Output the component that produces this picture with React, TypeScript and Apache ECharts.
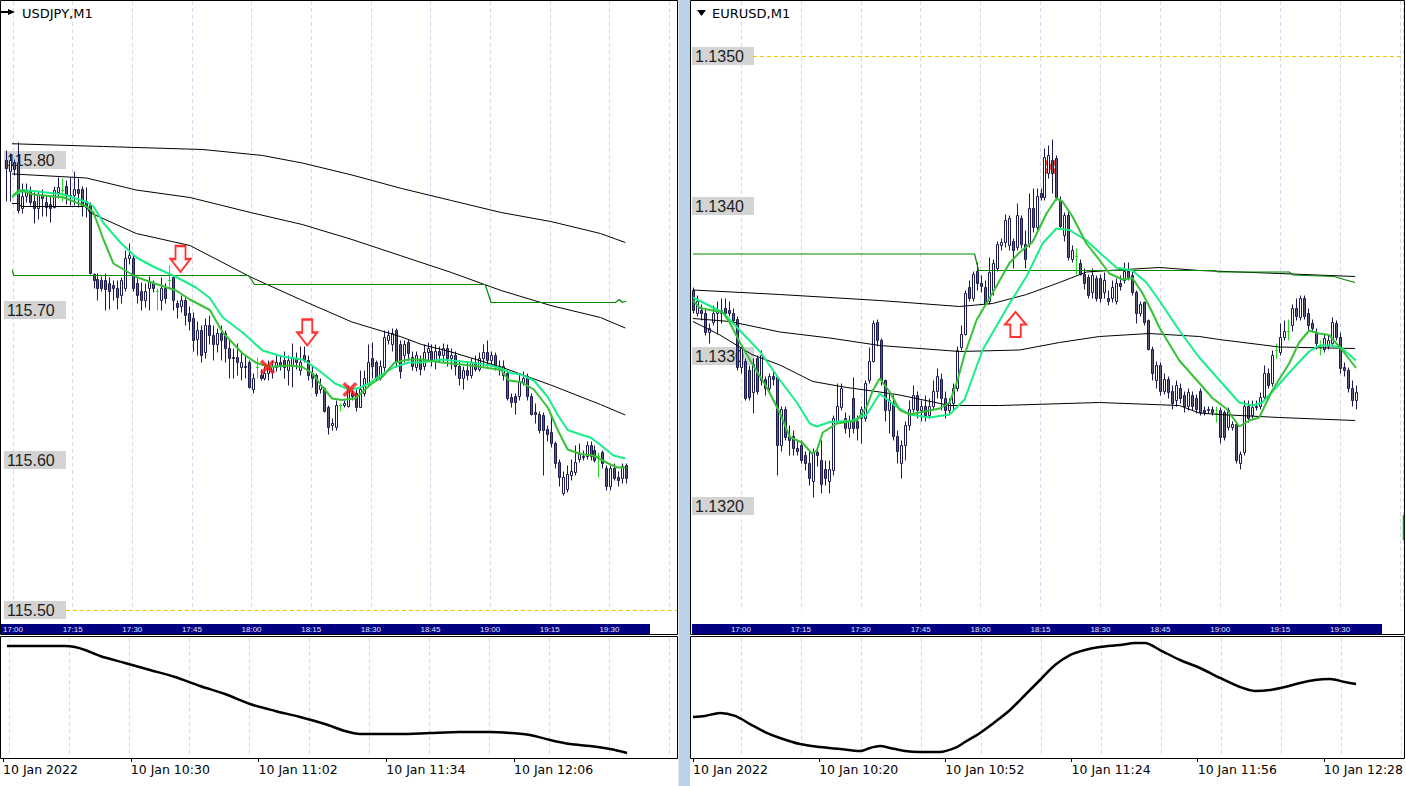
import React, { useEffect, useRef } from "react";
import * as echarts from "echarts";

// ---------- tick labels ----------
const timeStripLabels = ["17:00", "17:15", "17:30", "17:45", "18:00", "18:15", "18:30", "18:45", "19:00", "19:15", "19:30"];
const usdjpyDateLabels = ["10 Jan 2022", "10 Jan 10:30", "10 Jan 11:02", "10 Jan 11:34", "10 Jan 12:06"];
const eurusdDateLabels = ["10 Jan 2022", "10 Jan 10:20", "10 Jan 10:52", "10 Jan 11:24", "10 Jan 11:56", "10 Jan 12:28"];
const usdjpyPriceTicks = [115.5, 115.6, 115.7, 115.8];
const eurusdPriceTicks = [1.132, 1.133, 1.134, 1.135];
const usdjpyLevel = 115.5;
const eurusdLevel = 1.135;

// ---------- USDJPY M1 candles [open, close, low, high] ----------
const usdjpyCandles: number[][] = [
  [115.800, 115.795, 115.773, 115.807], [115.793, 115.800, 115.773, 115.805], [115.799, 115.794, 115.790, 115.801],
  [115.799, 115.767, 115.765, 115.812], [115.768, 115.776, 115.765, 115.785], [115.776, 115.780, 115.772, 115.785],
  [115.780, 115.772, 115.770, 115.783], [115.773, 115.768, 115.758, 115.779], [115.768, 115.777, 115.761, 115.780],
  [115.777, 115.775, 115.763, 115.781], [115.772, 115.769, 115.763, 115.777], [115.771, 115.768, 115.759, 115.777],
  [115.769, 115.780, 115.768, 115.783], [115.779, 115.782, 115.775, 115.789], [115.780, 115.780, 115.773, 115.788],
  [115.783, 115.777, 115.771, 115.787], [115.777, 115.776, 115.770, 115.789], [115.777, 115.781, 115.770, 115.793],
  [115.781, 115.778, 115.769, 115.788], [115.781, 115.770, 115.763, 115.783], [115.773, 115.769, 115.762, 115.782],
  [115.770, 115.725, 115.724, 115.772], [115.724, 115.720, 115.715, 115.725], [115.721, 115.715, 115.707, 115.725],
  [115.720, 115.715, 115.713, 115.723], [115.720, 115.714, 115.700, 115.725], [115.718, 115.713, 115.701, 115.722],
  [115.717, 115.715, 115.707, 115.720], [115.715, 115.709, 115.701, 115.720], [115.710, 115.720, 115.705, 115.722],
  [115.715, 115.735, 115.713, 115.740], [115.735, 115.737, 115.731, 115.745], [115.735, 115.715, 115.713, 115.737],
  [115.718, 115.710, 115.705, 115.722], [115.713, 115.707, 115.700, 115.719], [115.707, 115.713, 115.702, 115.718],
  [115.715, 115.719, 115.700, 115.723], [115.718, 115.715, 115.712, 115.720], [115.713, 115.713, 115.700, 115.715],
  [115.707, 115.715, 115.700, 115.722], [115.715, 115.708, 115.705, 115.718], [115.720, 115.720, 115.715, 115.730],
  [115.722, 115.707, 115.700, 115.723], [115.705, 115.702, 115.695, 115.707], [115.703, 115.707, 115.699, 115.710],
  [115.707, 115.697, 115.690, 115.709], [115.698, 115.693, 115.687, 115.703], [115.695, 115.680, 115.673, 115.699],
  [115.681, 115.687, 115.670, 115.693], [115.687, 115.670, 115.665, 115.690], [115.672, 115.690, 115.668, 115.695],
  [115.690, 115.683, 115.677, 115.697], [115.683, 115.677, 115.667, 115.690], [115.677, 115.685, 115.672, 115.688],
  [115.685, 115.680, 115.667, 115.690], [115.685, 115.675, 115.665, 115.687], [115.675, 115.668, 115.655, 115.680],
  [115.669, 115.668, 115.655, 115.675], [115.669, 115.665, 115.657, 115.678], [115.662, 115.665, 115.653, 115.673],
  [115.663, 115.662, 115.655, 115.670], [115.665, 115.649, 115.648, 115.667], [115.647, 115.655, 115.645, 115.658],
  [115.662, 115.662, 115.655, 115.669], [115.657, 115.655, 115.653, 115.661], [115.655, 115.658, 115.653, 115.663],
  [115.658, 115.662, 115.653, 115.667], [115.659, 115.663, 115.655, 115.667], [115.662, 115.665, 115.659, 115.670],
  [115.665, 115.663, 115.660, 115.670], [115.667, 115.662, 115.655, 115.673], [115.660, 115.667, 115.650, 115.670],
  [115.663, 115.669, 115.649, 115.678], [115.668, 115.665, 115.661, 115.672], [115.660, 115.665, 115.657, 115.676],
  [115.670, 115.667, 115.665, 115.676], [115.667, 115.657, 115.653, 115.670], [115.658, 115.655, 115.649, 115.663],
  [115.657, 115.645, 115.643, 115.658], [115.647, 115.650, 115.645, 115.655], [115.648, 115.633, 115.632, 115.649],
  [115.635, 115.622, 115.617, 115.637], [115.623, 115.625, 115.620, 115.628], [115.622, 115.637, 115.620, 115.640],
  [115.637, 115.637, 115.633, 115.638], [115.637, 115.638, 115.635, 115.640], [115.636, 115.647, 115.635, 115.650],
  [115.645, 115.643, 115.640, 115.648], [115.645, 115.635, 115.633, 115.647], [115.635, 115.647, 115.635, 115.660],
  [115.645, 115.655, 115.643, 115.660], [115.651, 115.665, 115.650, 115.677], [115.668, 115.663, 115.655, 115.679],
  [115.665, 115.655, 115.653, 115.667], [115.655, 115.663, 115.653, 115.667], [115.662, 115.682, 115.659, 115.687],
  [115.680, 115.683, 115.677, 115.687], [115.677, 115.685, 115.673, 115.688], [115.687, 115.665, 115.662, 115.688],
  [115.677, 115.659, 115.655, 115.680], [115.670, 115.677, 115.665, 115.680], [115.679, 115.671, 115.667, 115.681],
  [115.669, 115.663, 115.660, 115.673], [115.662, 115.670, 115.659, 115.673], [115.667, 115.661, 115.657, 115.670],
  [115.663, 115.672, 115.660, 115.677], [115.672, 115.675, 115.667, 115.679], [115.673, 115.667, 115.663, 115.677],
  [115.667, 115.673, 115.661, 115.677], [115.673, 115.670, 115.665, 115.676], [115.670, 115.675, 115.665, 115.678],
  [115.675, 115.668, 115.663, 115.677], [115.668, 115.670, 115.661, 115.675], [115.670, 115.663, 115.657, 115.673],
  [115.663, 115.655, 115.650, 115.667], [115.655, 115.660, 115.647, 115.663], [115.660, 115.657, 115.653, 115.665],
  [115.657, 115.665, 115.655, 115.668], [115.665, 115.661, 115.659, 115.670], [115.661, 115.668, 115.659, 115.672],
  [115.668, 115.672, 115.663, 115.677], [115.672, 115.667, 115.663, 115.680], [115.667, 115.670, 115.663, 115.673],
  [115.670, 115.663, 115.660, 115.672], [115.663, 115.661, 115.657, 115.667], [115.657, 115.663, 115.653, 115.667],
  [115.658, 115.641, 115.640, 115.660], [115.642, 115.639, 115.635, 115.645], [115.643, 115.639, 115.631, 115.645],
  [115.643, 115.652, 115.640, 115.658], [115.652, 115.655, 115.650, 115.659], [115.656, 115.643, 115.640, 115.658],
  [115.643, 115.631, 115.630, 115.645], [115.632, 115.631, 115.625, 115.638], [115.631, 115.620, 115.618, 115.633],
  [115.630, 115.620, 115.590, 115.632], [115.621, 115.617, 115.613, 115.623], [115.619, 115.611, 115.609, 115.629],
  [115.611, 115.598, 115.595, 115.613], [115.599, 115.589, 115.583, 115.601], [115.578, 115.589, 115.577, 115.593],
  [115.581, 115.591, 115.579, 115.597], [115.590, 115.593, 115.587, 115.601], [115.592, 115.599, 115.590, 115.610],
  [115.601, 115.604, 115.599, 115.611], [115.603, 115.602, 115.600, 115.607], [115.603, 115.610, 115.601, 115.613],
  [115.610, 115.603, 115.600, 115.613], [115.607, 115.600, 115.599, 115.610], [115.603, 115.603, 115.589, 115.605],
  [115.605, 115.598, 115.595, 115.607], [115.595, 115.583, 115.580, 115.597], [115.583, 115.595, 115.580, 115.597],
  [115.595, 115.588, 115.587, 115.598], [115.589, 115.587, 115.583, 115.593], [115.588, 115.596, 115.585, 115.598],
  [115.597, 115.588, 115.585, 115.598],
];

// ---------- EURUSD M1 candles [open, close, low, high] ----------
const eurusdCandles: number[][] = [
  [1.13344, 1.13331, 1.13329, 1.13346], [1.13329, 1.13337, 1.13327, 1.13341], [1.13331, 1.13329, 1.13324, 1.13335],
  [1.13329, 1.13316, 1.13314, 1.13332], [1.13316, 1.13319, 1.13309, 1.13322], [1.13323, 1.13329, 1.13321, 1.13334],
  [1.13329, 1.13331, 1.13315, 1.13337], [1.13329, 1.13331, 1.13322, 1.13339], [1.13332, 1.13329, 1.13326, 1.13339],
  [1.13331, 1.13329, 1.13327, 1.13337], [1.13329, 1.13324, 1.13323, 1.13332], [1.13325, 1.13293, 1.13291, 1.13327],
  [1.13293, 1.13306, 1.13289, 1.13307], [1.13297, 1.13272, 1.13271, 1.13299], [1.13291, 1.13273, 1.13271, 1.13294],
  [1.13276, 1.13295, 1.13262, 1.13299], [1.13299, 1.13277, 1.13275, 1.13301], [1.13284, 1.13301, 1.13281, 1.13304],
  [1.13285, 1.13279, 1.13274, 1.13287], [1.13279, 1.13287, 1.13276, 1.13289], [1.13287, 1.13285, 1.13281, 1.13291],
  [1.13286, 1.13241, 1.13221, 1.13287], [1.13241, 1.13265, 1.13237, 1.13267], [1.13265, 1.13246, 1.13244, 1.13267],
  [1.13247, 1.13244, 1.13234, 1.13254], [1.13247, 1.13239, 1.13234, 1.13251], [1.13239, 1.13237, 1.13234, 1.13244],
  [1.13241, 1.13231, 1.13229, 1.13244], [1.13234, 1.13229, 1.13224, 1.13237], [1.13229, 1.13219, 1.13214, 1.13237],
  [1.13217, 1.13236, 1.13206, 1.13239], [1.13236, 1.13234, 1.13227, 1.13239], [1.13231, 1.13215, 1.13209, 1.13244],
  [1.13225, 1.13219, 1.13214, 1.13231], [1.13217, 1.13225, 1.13209, 1.13231], [1.13224, 1.13259, 1.13221, 1.13261],
  [1.13257, 1.13267, 1.13256, 1.13282], [1.13266, 1.13279, 1.13264, 1.13282], [1.13259, 1.13252, 1.13249, 1.13263],
  [1.13252, 1.13257, 1.13246, 1.13261], [1.13272, 1.13252, 1.13249, 1.13286], [1.13257, 1.13252, 1.13244, 1.13261],
  [1.13259, 1.13265, 1.13242, 1.13267], [1.13259, 1.13282, 1.13257, 1.13284], [1.13284, 1.13297, 1.13282, 1.13306],
  [1.13297, 1.13322, 1.13296, 1.13324], [1.13323, 1.13311, 1.13307, 1.13325], [1.13311, 1.13284, 1.13281, 1.13312],
  [1.13284, 1.13264, 1.13257, 1.13285], [1.13264, 1.13271, 1.13249, 1.13277], [1.13269, 1.13247, 1.13244, 1.13274],
  [1.13247, 1.13237, 1.13229, 1.13251], [1.13229, 1.13241, 1.13219, 1.13244], [1.13241, 1.13254, 1.13231, 1.13257],
  [1.13254, 1.13265, 1.13251, 1.13271], [1.13265, 1.13274, 1.13263, 1.13281], [1.13274, 1.13264, 1.13259, 1.13277],
  [1.13264, 1.13267, 1.13257, 1.13271], [1.13267, 1.13261, 1.13257, 1.13274], [1.13261, 1.13267, 1.13259, 1.13272],
  [1.13267, 1.13277, 1.13264, 1.13284], [1.13277, 1.13287, 1.13272, 1.13292], [1.13285, 1.13272, 1.13264, 1.13289],
  [1.13272, 1.13264, 1.13259, 1.13277], [1.13264, 1.13269, 1.13262, 1.13272], [1.13269, 1.13279, 1.13264, 1.13282],
  [1.13279, 1.13304, 1.13277, 1.13307], [1.13306, 1.13315, 1.13304, 1.13321], [1.13315, 1.13342, 1.13314, 1.13344],
  [1.13346, 1.13339, 1.13337, 1.13351], [1.13339, 1.13355, 1.13337, 1.13357], [1.13357, 1.13349, 1.13344, 1.13363],
  [1.13349, 1.13347, 1.13343, 1.13354], [1.13346, 1.13335, 1.13334, 1.13351], [1.13337, 1.13356, 1.13335, 1.13366],
  [1.13344, 1.13362, 1.13341, 1.13365], [1.13359, 1.13375, 1.13357, 1.13377], [1.13374, 1.13376, 1.13371, 1.13379],
  [1.13376, 1.13391, 1.13373, 1.13395], [1.13374, 1.13392, 1.13371, 1.13394], [1.13377, 1.13371, 1.13359, 1.13379],
  [1.13373, 1.13394, 1.13371, 1.13402], [1.13392, 1.13375, 1.13372, 1.13394], [1.13375, 1.13365, 1.13359, 1.13384],
  [1.13375, 1.13399, 1.13373, 1.13409], [1.13399, 1.13386, 1.13383, 1.13412], [1.13386, 1.13407, 1.13384, 1.13412],
  [1.13409, 1.13406, 1.13404, 1.13412], [1.13406, 1.13433, 1.13404, 1.13439], [1.13422, 1.13434, 1.13419, 1.13441],
  [1.13431, 1.13422, 1.13409, 1.13445], [1.13432, 1.13406, 1.13404, 1.13434], [1.13404, 1.13387, 1.13385, 1.13407],
  [1.13381, 1.13394, 1.13377, 1.13396], [1.13394, 1.13366, 1.13364, 1.13397], [1.13365, 1.13371, 1.13363, 1.13374],
  [1.13367, 1.13367, 1.13355, 1.13372], [1.13362, 1.13355, 1.13354, 1.13365], [1.13355, 1.13349, 1.13345, 1.13359],
  [1.13353, 1.13341, 1.13339, 1.13355], [1.13343, 1.13354, 1.13339, 1.13359], [1.13352, 1.13339, 1.13337, 1.13354],
  [1.13352, 1.13339, 1.13336, 1.13355], [1.13343, 1.13351, 1.13339, 1.13356], [1.13339, 1.13337, 1.13334, 1.13344],
  [1.13339, 1.13346, 1.13336, 1.13351], [1.13337, 1.13349, 1.13335, 1.13352], [1.13349, 1.13347, 1.13344, 1.13354],
  [1.13351, 1.13357, 1.13349, 1.13363], [1.13357, 1.13353, 1.13351, 1.13363], [1.13354, 1.13343, 1.13341, 1.13357],
  [1.13343, 1.13329, 1.13322, 1.13344], [1.13329, 1.13335, 1.13327, 1.13337], [1.13336, 1.13323, 1.13321, 1.13337],
  [1.13324, 1.13305, 1.13304, 1.13325], [1.13305, 1.13289, 1.13284, 1.13307], [1.13284, 1.13294, 1.13279, 1.13297],
  [1.13294, 1.13277, 1.13274, 1.13296], [1.13277, 1.13285, 1.13275, 1.13289], [1.13285, 1.13276, 1.13272, 1.13287],
  [1.13277, 1.13269, 1.13265, 1.13281], [1.13271, 1.13281, 1.13267, 1.13284], [1.13279, 1.13272, 1.13269, 1.13282],
  [1.13274, 1.13267, 1.13263, 1.13277], [1.13267, 1.13276, 1.13264, 1.13279], [1.13274, 1.13267, 1.13264, 1.13277],
  [1.13272, 1.13265, 1.13262, 1.13275], [1.13277, 1.13263, 1.13261, 1.13279], [1.13264, 1.13263, 1.13261, 1.13267],
  [1.13264, 1.13265, 1.13262, 1.13267], [1.13265, 1.13263, 1.13261, 1.13267], [1.13262, 1.13262, 1.13256, 1.13267],
  [1.13264, 1.13246, 1.13242, 1.13266], [1.13263, 1.13246, 1.13244, 1.13264], [1.13253, 1.13264, 1.13251, 1.13266],
  [1.13253, 1.13255, 1.13251, 1.13257], [1.13255, 1.13231, 1.13229, 1.13257], [1.13229, 1.13235, 1.13225, 1.13237],
  [1.13236, 1.13267, 1.13234, 1.13271], [1.13267, 1.13259, 1.13256, 1.13271], [1.13261, 1.13266, 1.13259, 1.13271],
  [1.13267, 1.13266, 1.13264, 1.13271], [1.13267, 1.13273, 1.13265, 1.13276], [1.13273, 1.13289, 1.13271, 1.13294],
  [1.13289, 1.13281, 1.13279, 1.13292], [1.13282, 1.13301, 1.13280, 1.13304], [1.13304, 1.13304, 1.13299, 1.13309],
  [1.13303, 1.13313, 1.13301, 1.13322], [1.13313, 1.13317, 1.13311, 1.13324], [1.13317, 1.13317, 1.13311, 1.13325],
  [1.13321, 1.13332, 1.13317, 1.13335], [1.13332, 1.13327, 1.13324, 1.13339], [1.13326, 1.13339, 1.13324, 1.13341],
  [1.13339, 1.13327, 1.13325, 1.13341], [1.13329, 1.13321, 1.13317, 1.13332], [1.13322, 1.13319, 1.13316, 1.13325],
  [1.13316, 1.13309, 1.13305, 1.13319], [1.13307, 1.13307, 1.13301, 1.13311], [1.13305, 1.13312, 1.13303, 1.13315],
  [1.13307, 1.13311, 1.13305, 1.13314], [1.13309, 1.13323, 1.13307, 1.13326], [1.13322, 1.13313, 1.13311, 1.13324],
  [1.13313, 1.13292, 1.13289, 1.13316], [1.13293, 1.13291, 1.13287, 1.13296], [1.13291, 1.13279, 1.13276, 1.13293],
  [1.13279, 1.13271, 1.13267, 1.13284], [1.13271, 1.13276, 1.13265, 1.13281],
];

// ---------- USDJPY indicator lines [bar index, price] ----------
const usdjpyMaSlow = [[-0.5, 115.811], [24.5, 115.809], [49.5, 115.807], [64.5, 115.803], [74.5, 115.798], [87, 115.79], [99.5, 115.781], [112, 115.773], [124.5, 115.765], [137, 115.759], [149.5, 115.751], [155.75, 115.745]];
const usdjpyMaMid = [[-0.5, 115.791], [20.25, 115.788], [32.75, 115.78], [46.25, 115.775], [61.5, 115.765], [74.5, 115.757], [87, 115.747], [99.5, 115.736], [112, 115.725], [124.5, 115.713], [137, 115.703], [149.5, 115.695], [155.75, 115.688]];
const usdjpyMaFast = [[-0.5, 115.771], [3.25, 115.771], [3.75, 115.769], [20.25, 115.769], [21, 115.765], [32.75, 115.751], [46.25, 115.743], [61.5, 115.722], [74, 115.707], [87, 115.692], [99.5, 115.682], [104.5, 115.677], [112, 115.672], [124.5, 115.662], [137, 115.65], [149.5, 115.637], [155.75, 115.63]];
const usdjpyHtfMa = [[-0.5, 115.73], [1, 115.73], [2, 115.723], [61, 115.723], [62.5, 115.717], [120.5, 115.717], [122, 115.705], [153.25, 115.705], [154.25, 115.707], [155, 115.705], [156, 115.706]];
const usdjpyEmaSlow = [[-0.5, 115.773], [4.5, 115.78], [14.5, 115.777], [20.25, 115.772], [22, 115.769], [24.5, 115.758], [28.75, 115.745], [32.75, 115.735], [37, 115.729], [42.75, 115.722], [47.75, 115.715], [51.25, 115.708], [54.5, 115.695], [59.5, 115.685], [64.5, 115.673], [69.5, 115.669], [74.5, 115.667], [77, 115.663], [79.5, 115.658], [82.75, 115.651], [86.25, 115.647], [88.75, 115.648], [91.25, 115.651], [94.5, 115.657], [97.75, 115.662], [101.25, 115.665], [104.5, 115.665], [109.5, 115.667], [117, 115.665], [122, 115.663], [124.5, 115.661], [127, 115.658], [129.5, 115.657], [132.75, 115.653], [136.25, 115.642], [138.75, 115.63], [141.25, 115.62], [144.5, 115.617], [147, 115.615], [149.5, 115.61], [152.75, 115.603], [155.75, 115.601]];
const usdjpyEmaFast = [[-0.5, 115.77], [3.25, 115.78], [7, 115.777], [14.5, 115.775], [20.25, 115.769], [22, 115.765], [24.5, 115.747], [27, 115.731], [32.75, 115.722], [37, 115.718], [42.75, 115.713], [46.25, 115.707], [51.25, 115.7], [54.5, 115.685], [59.5, 115.671], [62.75, 115.665], [66.25, 115.662], [71.25, 115.663], [74.5, 115.662], [77, 115.658], [79.5, 115.649], [82, 115.641], [84.5, 115.64], [87.75, 115.641], [89.5, 115.645], [92, 115.651], [94.5, 115.655], [97.75, 115.665], [101.25, 115.667], [104.5, 115.667], [109.5, 115.665], [117, 115.663], [124.5, 115.66], [126.5, 115.653], [129.5, 115.652], [132.75, 115.647], [136.25, 115.635], [138.75, 115.62], [141.25, 115.607], [144.5, 115.604], [147.75, 115.603], [151.25, 115.598], [153.75, 115.595], [155.75, 115.595]];
const usdjpyOscillator = [[-0.5, 93.3], [15.75, 93.3], [18.25, 92.4], [20.75, 89.9], [24.5, 84.9], [30.75, 79.0], [37, 73.1], [43.25, 67.2], [49.5, 59.7], [55.75, 52.9], [62, 44.5], [68.25, 38.7], [74.5, 33.6], [80.75, 27.7], [85.75, 21.8], [89.5, 19.3], [94.5, 19.3], [99.5, 19.3], [107, 20.2], [114.5, 21.0], [122, 21.0], [127, 20.2], [132, 18.5], [137, 14.3], [142, 10.9], [147, 9.2], [152, 6.7], [156.25, 3.4]];
const usdjpySellArrows = [[43.875, 115.734], [75.75, 115.685]];
const usdjpyCloseMarks = [[65.75, 115.662], [86.5, 115.647]];

// ---------- EURUSD indicator lines [bar index, price] ----------
const eurusdMaSlow = [[0, 1.13344], [21.75, 1.13341], [46.75, 1.13337], [66.75, 1.13333], [75, 1.13335], [83.5, 1.13341], [91.75, 1.13349], [98.5, 1.13356], [104.25, 1.13357], [116.75, 1.13359], [126.75, 1.13357], [146.75, 1.13355], [165.75, 1.13353]];
const eurusdMaMid = [[0, 1.13325], [9.25, 1.13323], [21.75, 1.13316], [34.25, 1.13312], [46.75, 1.13307], [66.75, 1.13303], [81.75, 1.13304], [91.75, 1.13309], [101.75, 1.13313], [114.25, 1.13315], [126.75, 1.13313], [131.75, 1.13311], [146.75, 1.13306], [165.75, 1.13305]];
const eurusdMaFast = [[0, 1.13323], [6.75, 1.13314], [14.75, 1.13301], [21.75, 1.13294], [30, 1.13283], [38.5, 1.13279], [46.75, 1.13276], [51.75, 1.13274], [64.25, 1.13267], [76.75, 1.13267], [101.75, 1.13269], [121.75, 1.13267], [126.75, 1.13262], [131.75, 1.13261], [146.75, 1.13259], [165.75, 1.13257]];
const eurusdHtfMa = [[0, 1.13368], [70.5, 1.13368], [71.5, 1.13357], [130.5, 1.13357], [131.5, 1.13356], [149.25, 1.13356], [150.25, 1.13354], [160.5, 1.13353], [163, 1.13351], [165.75, 1.13349]];
const eurusdEmaFast = [[0, 1.13337], [1.75, 1.13332], [7.5, 1.13329], [9.25, 1.13322], [11.75, 1.13309], [15, 1.13294], [18.5, 1.13279], [21.75, 1.13262], [24.25, 1.13246], [27.5, 1.13242], [29.75, 1.13235], [31, 1.13237], [32.5, 1.13249], [36, 1.13255], [41, 1.13257], [43.5, 1.13266], [45, 1.13277], [46.75, 1.13285], [49.25, 1.13276], [51.75, 1.13264], [54.25, 1.13261], [58, 1.13263], [61.75, 1.13265], [64.25, 1.13269], [66.25, 1.13284], [68, 1.13301], [71, 1.13324], [75, 1.13342], [79.25, 1.13362], [81.75, 1.13369], [85, 1.13376], [88.5, 1.13395], [91, 1.13405], [92.5, 1.13403], [95, 1.13393], [98.5, 1.13375], [101.75, 1.13364], [104.25, 1.13355], [107.5, 1.13351], [110, 1.13352], [112.5, 1.13342], [115, 1.13329], [116.75, 1.13319], [121.75, 1.13297], [126.75, 1.13282], [130, 1.13272], [133.5, 1.13265], [136.75, 1.13253], [139.25, 1.13257], [141.75, 1.13259], [145, 1.13277], [149.25, 1.13295], [151.75, 1.13309], [154.25, 1.13317], [156.75, 1.13315], [159.25, 1.13314], [162.5, 1.13304], [166, 1.13292]];
const eurusdEmaSlow = [[0, 1.13339], [7.5, 1.13329], [11.75, 1.13317], [16.75, 1.13303], [21.75, 1.13284], [26, 1.13269], [29.25, 1.13255], [31, 1.13253], [34.25, 1.13256], [40, 1.13257], [43.5, 1.13261], [46.75, 1.13275], [50.5, 1.13267], [54.25, 1.13261], [59.25, 1.13259], [64.25, 1.13261], [68, 1.13271], [72.5, 1.13304], [79.25, 1.13335], [83.5, 1.13353], [87.5, 1.13375], [91, 1.13385], [94.25, 1.13384], [98.5, 1.13377], [101.75, 1.13369], [106, 1.13359], [110, 1.13357], [113.5, 1.13349], [116.75, 1.13337], [121.75, 1.13317], [126.75, 1.13299], [131.75, 1.13284], [136.75, 1.13269], [140, 1.13267], [142.5, 1.13269], [146, 1.13279], [150, 1.13291], [154.25, 1.13303], [156.75, 1.13307], [160, 1.13307], [162.5, 1.13305], [166, 1.13297]];
const eurusdOscillator = [[0, 33.6], [3, 34.5], [6.75, 37.0], [10.5, 34.5], [14.25, 27.7], [18, 21.0], [21.75, 16.0], [26.75, 10.9], [31.75, 8.4], [36.75, 6.7], [41.75, 5.0], [44.25, 7.6], [46.75, 9.2], [49.25, 7.6], [53, 5.0], [56.75, 4.2], [61.75, 4.2], [65.5, 7.6], [68, 12.6], [71.75, 20.2], [75.5, 29.4], [79.25, 39.5], [83, 52.1], [86.75, 64.7], [90.5, 77.3], [94.25, 85.7], [98, 89.9], [101.75, 92.4], [106.75, 94.1], [110.5, 95.8], [113, 95.8], [116.75, 89.9], [121.75, 81.5], [126.75, 74.8], [131.75, 66.4], [136.75, 58.8], [140.5, 55.5], [144.25, 56.3], [148, 58.8], [151.75, 62.2], [155.5, 64.7], [159.25, 65.5], [163, 63.0], [165.75, 61.3]];
const eurusdBuyArrows = [[80.75, 1.13321]];
const eurusdCloseMarks = [[89.5, 1.13426]];

// ---------- styles ----------
const UI_FONT = "'DejaVu Sans', Tahoma, sans-serif";
const PRICE_FONT = "'Liberation Sans', Arial, sans-serif";
const GRID_LINE = { show: true, lineStyle: { color: "#d6d6ee", type: [4, 3] as any, width: 1 } };
const EDGE = "#1a1a4e";
const BEAR = "#5c5c76";
const BULL = "#ffffff";
const DOJI = "#22dd22";
const EMA_FAST = "#35c235";
const EMA_SLOW = "#18ee88";
const HTF = "#008800";
const DOWN_ARROW = "path://M5,0L15,0L15,13L20,13L10,26L0,13L5,13Z";
const UP_ARROW = "path://M10,0L20,13L15,13L15,26L5,26L5,13L0,13Z";
const CROSS = "path://M0,2L2,0L6,4L10,0L12,2L8,6L12,10L10,12L6,8L2,12L0,10L4,6Z";

function candleRender(params: any, api: any) {
  const i = api.value(0);
  const o = api.value(1), c = api.value(2), l = api.value(3), h = api.value(4);
  const pO = api.coord([i, o]);
  const pC = api.coord([i, c]);
  const pL = api.coord([i, l]);
  const pH = api.coord([i, h]);
  const r = Math.round(pO[0]);
  const xw = r + 0.5;
  const yH = Math.round(pH[1]) + 0.5;
  const yL = Math.round(pL[1]) + 0.5;
  if (o === c) {
    const yb = Math.round(pO[1]) + 0.5;
    return {
      type: "group",
      children: [
        { type: "line", shape: { x1: xw, y1: yH, x2: xw, y2: yL }, style: { stroke: DOJI, lineWidth: 1 } },
        { type: "line", shape: { x1: r - 1, y1: yb, x2: r + 2, y2: yb }, style: { stroke: DOJI, lineWidth: 1 } },
      ],
    };
  }
  const yT = Math.round(Math.min(pO[1], pC[1])) + 0.5;
  const yB = Math.round(Math.max(pO[1], pC[1])) + 0.5;
  return {
    type: "group",
    children: [
      { type: "line", shape: { x1: xw, y1: yH, x2: xw, y2: yL }, style: { stroke: EDGE, lineWidth: 1 } },
      {
        type: "rect",
        shape: { x: r - 0.5, y: yT, width: 2, height: Math.max(yB - yT, 1) },
        style: { fill: c > o ? BULL : BEAR, stroke: EDGE, lineWidth: 1 },
      },
    ],
  };
}

function priceFormatter(ticks: number[], digits: number, tol: number) {
  return (v: number) => {
    const hit = ticks.find((t) => Math.abs(t - v) < tol);
    return hit === undefined ? "" : `{b|${hit.toFixed(digits)}}`;
  };
}

function stripFormatter(v: number) {
  const k = Math.round(v / 15);
  if (Math.abs(v - k * 15) > 1e-6 || k < 0 || k >= timeStripLabels.length) return "";
  return timeStripLabels[k];
}

function line(data: number[][], xi: number, yi: number, color: string, width: number, z = 3, smooth: any = false) {
  return {
    type: "line",
    xAxisIndex: xi,
    yAxisIndex: yi,
    data,
    symbol: "none",
    showSymbol: false,
    smooth,
    silent: true,
    clip: false,
    z,
    lineStyle: { color, width },
  };
}

function scatter(data: number[][], xi: number, yi: number, symbol: string, size: any, style: any, z = 5) {
  return { type: "scatter", xAxisIndex: xi, yAxisIndex: yi, data, symbol, symbolSize: size, itemStyle: style, silent: true, z };
}

function candles(data: number[][], xi: number, yi: number, level: number, from: number, to: number) {
  return {
    type: "custom",
    xAxisIndex: xi,
    yAxisIndex: yi,
    data: data.map((d, i) => [i, d[0], d[1], d[2], d[3]]),
    encode: { x: 0, y: [1, 2, 3, 4] },
    renderItem: candleRender,
    silent: true,
    clip: false,
    z: 2,
    markLine: {
      silent: true,
      symbol: ["none", "none"],
      label: { show: false },
      lineStyle: { color: "#f2c200", type: [4, 3], width: 1 },
      data: [[{ coord: [from, level] }, { coord: [to, level] }]],
    },
  };
}

const richPrice = {
  b: {
    backgroundColor: "#d3d3d3",
    width: 56,
    height: 18,
    lineHeight: 18,
    padding: [0, 3, 0, 3],
    fontSize: 16,
    fontFamily: PRICE_FONT,
    color: "#1e1e1e",
    align: "left",
  },
};

function stripAxis(grid: number, min: number, max: number, offset: number) {
  return {
    gridIndex: grid,
    type: "value",
    min,
    max,
    interval: 15,
    position: "bottom",
    offset,
    axisLine: { show: false },
    axisTick: { show: false },
    splitLine: GRID_LINE,
    axisLabel: { show: true, formatter: stripFormatter, margin: 1, fontSize: 8, fontFamily: PRICE_FONT, color: "#e4e4ff" },
  };
}
function gridAxis(grid: number, min: number, max: number) {
  return {
    gridIndex: grid,
    type: "value",
    min,
    max,
    interval: 15,
    axisLine: { show: false },
    axisTick: { show: false },
    axisLabel: { show: false },
    splitLine: GRID_LINE,
  };
}
function dataAxis(grid: number, min: number, max: number) {
  return { gridIndex: grid, type: "value", min, max, show: false };
}
function dateAxis(grid: number, labels: string[]) {
  return {
    gridIndex: grid,
    type: "category",
    data: labels,
    boundaryGap: false,
    position: "bottom",
    axisLine: { show: false },
    axisTick: { show: true, interval: 0, length: 4, lineStyle: { color: "#000", width: 1 } },
    splitLine: { show: false },
    axisLabel: { interval: 0, align: "left", margin: 5, fontSize: 12.5, fontFamily: UI_FONT, color: "#000" },
  };
}

function buildOption() {
  const border = (x: number, y: number, w: number, h: number) => ({
    type: "rect",
    z: 100,
    silent: true,
    shape: { x, y, width: w, height: h },
    style: { fill: "none", stroke: "#000", lineWidth: 1 },
  });
  return {
    animation: false,
    backgroundColor: "#ffffff",
    grid: [
      { left: 9, top: 1, width: 668, height: 609 },
      { left: 9, top: 638, width: 668, height: 119 },
      { left: 681, top: 1, width: 723, height: 610 },
      { left: 681, top: 638, width: 723, height: 119 },
      { left: 2, top: 638, width: 512, height: 120 },
      { left: 693, top: 638, width: 640, height: 120 },
    ],
    xAxis: [
      stripAxis(0, 0, 167, 14),
      dataAxis(0, 1.75, 168.75),
      gridAxis(1, 0, 167),
      dataAxis(1, 1.75, 168.75),
      stripAxis(2, -15, 165.75, 13),
      dataAxis(2, -3, 177.75),
      gridAxis(3, -15, 165.75),
      dataAxis(3, -3, 177.75),
      dateAxis(4, usdjpyDateLabels),
      dateAxis(5, eurusdDateLabels),
    ],
    yAxis: [
      {
        gridIndex: 0,
        type: "value",
        min: 115.5,
        max: 115.906,
        interval: 0.01,
        position: "left",
        offset: 9,
        axisLine: { show: false },
        axisTick: { show: false },
        splitLine: { show: false },
        axisLabel: { inside: true, margin: 0, formatter: priceFormatter(usdjpyPriceTicks, 2, 0.003), rich: richPrice },
      },
      { gridIndex: 1, type: "value", min: 0, max: 100, show: false },
      {
        gridIndex: 2,
        type: "value",
        min: 1.1313,
        max: 1.1353667,
        interval: 0.0001,
        position: "left",
        offset: -11,
        axisLine: { show: false },
        axisTick: { show: false },
        splitLine: { show: false },
        axisLabel: { inside: true, margin: 0, formatter: priceFormatter(eurusdPriceTicks, 4, 0.00003), rich: richPrice },
      },
      { gridIndex: 3, type: "value", min: 0, max: 100, show: false },
      { gridIndex: 4, type: "value", min: 0, max: 1, show: false },
      { gridIndex: 5, type: "value", min: 0, max: 1, show: false },
    ],
    series: [
      // USDJPY
      candles(usdjpyCandles, 1, 0, usdjpyLevel, 15, 168.75),
      line(usdjpyMaSlow, 1, 0, "#000", 1),
      line(usdjpyMaMid, 1, 0, "#000", 1),
      line(usdjpyMaFast, 1, 0, "#000", 1),
      line(usdjpyHtfMa, 1, 0, HTF, 1.2),
      line(usdjpyEmaSlow, 1, 0, EMA_SLOW, 2),
      line(usdjpyEmaFast, 1, 0, EMA_FAST, 2),
      scatter(usdjpySellArrows, 1, 0, DOWN_ARROW, [20, 26], { color: "#fff6f6", borderColor: "#ff0000", borderWidth: 2 }),
      scatter(usdjpyCloseMarks, 1, 0, CROSS, [15, 15], { color: "#ff1010" }),
      line(usdjpyOscillator, 3, 1, "#000", 2.5, 3, 0.3),
      // EURUSD
      candles(eurusdCandles, 5, 2, eurusdLevel, 15, 177.75),
      line(eurusdMaSlow, 5, 2, "#000", 1),
      line(eurusdMaMid, 5, 2, "#000", 1),
      line(eurusdMaFast, 5, 2, "#000", 1),
      line(eurusdHtfMa, 5, 2, HTF, 1.2),
      line(eurusdEmaSlow, 5, 2, EMA_SLOW, 2),
      line(eurusdEmaFast, 5, 2, EMA_FAST, 2),
      scatter(eurusdBuyArrows, 5, 2, UP_ARROW, [21, 25], { color: "#fff6f6", borderColor: "#ff0000", borderWidth: 2 }),
      scatter(eurusdCloseMarks, 5, 2, CROSS, [16, 16], { color: "#ff1010" }, 1),
      line(eurusdOscillator, 7, 3, "#000", 2.5, 3, 0.3),
    ],
    graphic: {
      elements: [
        { type: "rect", z: -1, silent: true, shape: { x: 0, y: 624, width: 650, height: 10 }, style: { fill: "#000080" } },
        { type: "rect", z: -1, silent: true, shape: { x: 692, y: 624, width: 690, height: 10 }, style: { fill: "#000080" } },
        border(0.5, 0.5, 677, 634),
        border(0.5, 636.5, 677, 122),
        border(690.5, 0.5, 714, 634),
        border(690.5, 636.5, 714, 122),
        { type: "rect", z: 99, silent: true, shape: { x: 678.5, y: 0, width: 11.5, height: 786 }, style: { fill: "#bcd2ea" } },
        {
          type: "polygon",
          z: 100,
          silent: true,
          shape: { points: [[0, 11], [8, 11], [8, 9], [15, 12], [8, 15], [8, 13], [0, 13]] },
          style: { fill: "#000" },
        },
        {
          type: "text",
          z: 100,
          silent: true,
          x: 22,
          y: 13,
          style: { text: "USDJPY,M1", fontSize: 13, fontFamily: UI_FONT, fill: "#000", verticalAlign: "middle" },
        },
        {
          type: "polygon",
          z: 100,
          silent: true,
          shape: { points: [[697, 10], [706, 10], [701.5, 16]] },
          style: { fill: "#000" },
        },
        {
          type: "text",
          z: 100,
          silent: true,
          x: 712,
          y: 13,
          style: { text: "EURUSD,M1", fontSize: 13, fontFamily: UI_FONT, fill: "#000", verticalAlign: "middle" },
        },
        {
          type: "line",
          z: 100,
          silent: true,
          shape: { x1: 1403.5, y1: 515, x2: 1403.5, y2: 540 },
          style: { stroke: "#00a000", lineWidth: 1.5 },
        },
      ],
    },
  };
}

export default function App() {
  const ref = useRef<HTMLDivElement>(null);
  useEffect(() => {
    if (!ref.current) return;
    const chart = echarts.init(ref.current, undefined, { renderer: "svg", width: 1406, height: 786 });
    chart.setOption(buildOption() as any);
    return () => chart.dispose();
  }, []);
  return (
    <div
      ref={ref}
      style={{ position: "fixed", left: 0, top: 0, width: 1406, height: 786, background: "#ffffff" }}
    />
  );
}
